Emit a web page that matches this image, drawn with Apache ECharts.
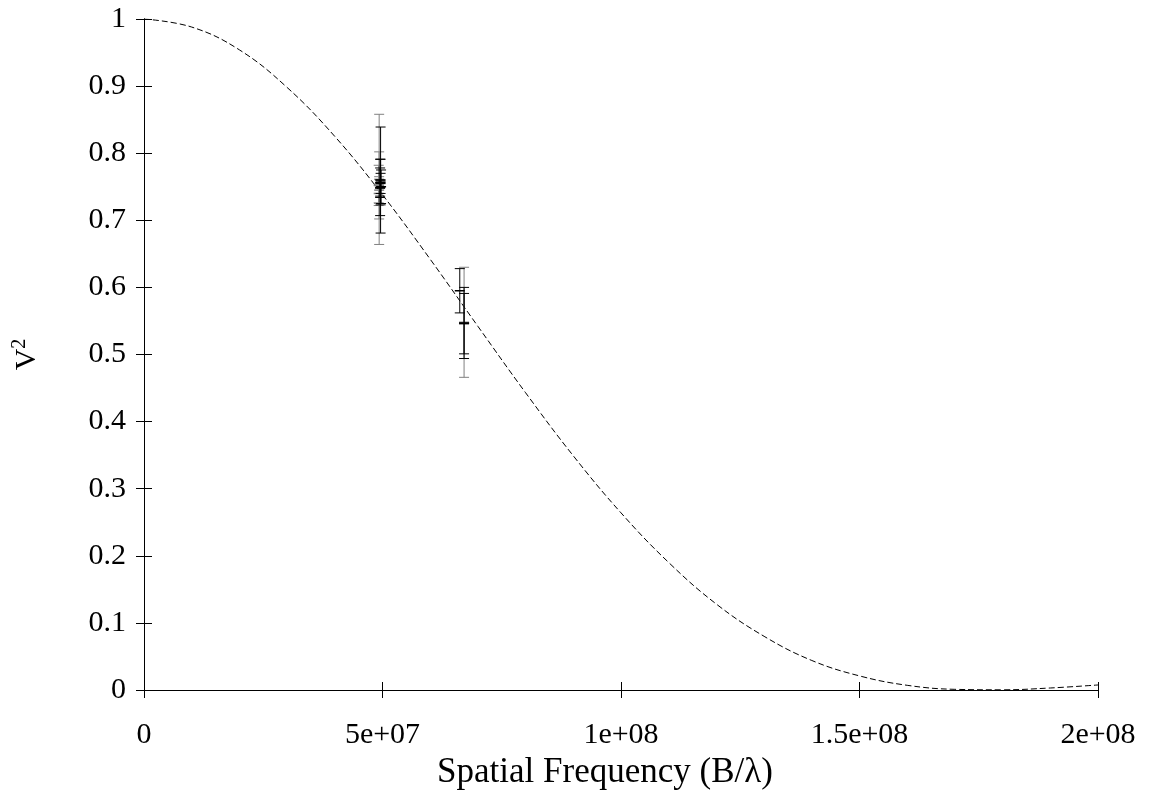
<!DOCTYPE html>
<html>
<head>
<meta charset="utf-8">
<script src="https://cdn.jsdelivr.net/npm/echarts@6/dist/echarts.min.js"></script>
<style>html,body{margin:0;padding:0;background:#fff}#c{width:1150px;height:795px}</style>
</head>
<body>
<div id="c"></div>
<script>
const curveX = [0,1e7,2e7,3e7,4e7,5e7,6e7,7e7,8e7,9e7,1e8,1.1e8,1.2e8,1.3e8,1.4e8,1.5e8,1.6e8,1.7e8,1.8e8,1.9e8,2e8];
const curveY = [1,0.988,0.954,0.898,0.825,0.738,0.642,0.542,0.443,0.349,0.264,0.190,0.128,0.080,0.044,0.021,0.007,0.001,0.0003,0.003,0.0075];

// Error-bar measurements: x, V^2, error
const barsBlackX = [4.96e7,4.95e7,4.96e7,4.95e7,4.97e7,4.96e7,4.95e7,6.62e7,6.71e7,6.71e7];
const barsBlackY = [0.760,0.749,0.757,0.756,0.750,0.755,0.748,0.595,0.546,0.547];
const barsBlackE = [0.079,0.042,0.034,0.022,0.025,0.015,0.012,0.033,0.045,0.053];

const barsGreyX = [4.93e7,4.93e7,4.92e7,4.93e7,4.92e7,6.71e7];
const barsGreyY = [0.761,0.752,0.752,0.745,0.740,0.548];
const barsGreyE = [0.097,0.050,0.030,0.020,0.014,0.082];

const xTicks = [0,5e7,1e8,1.5e8,2e8];
const xTickLabels = ['0','5e+07','1e+08','1.5e+08','2e+08'];
const yTickLabels = ['0','0.1','0.2','0.3','0.4','0.5','0.6','0.7','0.8','0.9','1'];

const FONT = 'Liberation Serif';
const chart = echarts.init(document.getElementById('c'), null, {renderer:'canvas'});

function zip3(a,b,c){return a.map((v,i)=>[v,b[i],c[i]]);}

function errRender(color){
  return function(params, api){
    const x = api.value(0), y = api.value(1), e = api.value(2);
    const t = api.coord([x, y+e]), b = api.coord([x, y-e]), m = api.coord([x, y]);
    const hw = 5;
    const st = {stroke: color, lineWidth: 1};
    return {type:'group', children:[
      {type:'line', shape:{x1:t[0],y1:t[1],x2:b[0],y2:b[1]}, style:st},
      {type:'line', shape:{x1:t[0]-hw,y1:t[1],x2:t[0]+hw,y2:t[1]}, style:st},
      {type:'line', shape:{x1:b[0]-hw,y1:b[1],x2:b[0]+hw,y2:b[1]}, style:st},
      {type:'line', shape:{x1:m[0]-hw,y1:m[1],x2:m[0]+hw,y2:m[1]}, style:{stroke:color,lineWidth:1.5}}
    ]};
  };
}

const axisLineStyle = {lineStyle:{color:'#000', width:1}};
const tickStyle = {inside:true, length:8, lineStyle:{color:'#000', width:1}};

chart.setOption({
  animation:false,
  backgroundColor:'#fff',
  grid:{left:144, right:52, top:19, bottom:105, containLabel:false},
  xAxis:[{
    type:'value', min:0, max:2e8, interval:5e7,
    axisLine:axisLineStyle, axisTick:tickStyle, splitLine:{show:false},
    axisLabel:{fontFamily:FONT, fontSize:30, color:'#000', margin:30,
      formatter:function(v){const i=xTicks.indexOf(v);return i>=0?xTickLabels[i]:'';}},
    name:'Spatial Frequency (B/\u03bb)', nameLocation:'middle', nameGap:59,
    nameTextStyle:{fontFamily:FONT, fontSize:35, color:'#000', padding:[0,32,0,0]}
  },{
    type:'value', min:0, max:2e8, interval:5e7, position:'top',
    axisLine:axisLineStyle, axisTick:tickStyle, axisLabel:{show:false}, splitLine:{show:false}
  }],
  yAxis:[{
    type:'value', min:0, max:1, interval:0.1,
    axisLine:axisLineStyle, axisTick:tickStyle, splitLine:{show:false},
    axisLabel:{fontFamily:FONT, fontSize:30, color:'#000', margin:18,
      formatter:function(v){return yTickLabels[Math.round(v*10)];}},
    name:'{v|V}{s|2}', nameLocation:'middle', nameGap:100, nameRotate:90,
    nameTextStyle:{fontFamily:FONT, color:'#000',
      rich:{v:{fontFamily:FONT,fontSize:30,color:'#000'},
            s:{fontFamily:FONT,fontSize:20,color:'#000',verticalAlign:'top',padding:[0,0,14,0]}}}
  },{
    type:'value', min:0, max:1, interval:0.1, position:'right',
    axisLine:axisLineStyle, axisTick:tickStyle, axisLabel:{show:false}, splitLine:{show:false}
  }],
  series:[
    {type:'line', data:curveX.map((x,i)=>[x,curveY[i]]), smooth:0.4, showSymbol:false,
     lineStyle:{color:'#000', width:1, type:[6,3]}, z:3},
    {type:'custom', data:zip3(barsGreyX,barsGreyY,barsGreyE), renderItem:errRender('#808080'), z:4},
    {type:'custom', data:zip3(barsBlackX,barsBlackY,barsBlackE), renderItem:errRender('#000'), z:5}
  ]
});
</script>
</body>
</html>
